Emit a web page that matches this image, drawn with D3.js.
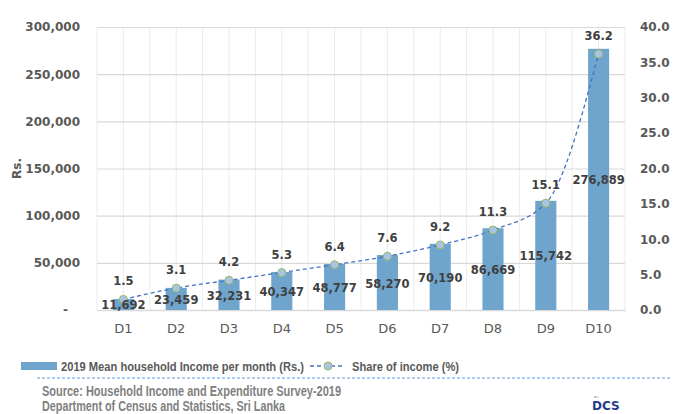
<!DOCTYPE html>
<html>
<head>
<meta charset="utf-8">
<script src="https://cdn.jsdelivr.net/npm/d3@7"></script>
<style>
  html, body { margin: 0; padding: 0; background: #fff; }
  svg text { font-family: "DejaVu Sans", sans-serif; }
  svg text.lg { font-family: "Liberation Sans", "Open Sans", sans-serif; }
</style>
</head>
<body>
<div id="chart"></div>
<script>
// ─── Data ──────────────────────────────────────────────────────────────
var deciles   = [ 'D1', 'D2', 'D3', 'D4', 'D5', 'D6', 'D7', 'D8', 'D9', 'D10' ];
var income    = [ 11692, 23459, 32231, 40347, 48777, 58270, 70190, 86669, 115742, 276889 ];
var share     = [ 1.5, 3.1, 4.2, 5.3, 6.4, 7.6, 9.2, 11.3, 15.1, 36.2 ];
var leftTicks = [ 0, 50000, 100000, 150000, 200000, 250000, 300000 ];
var rightTicks = [ 0, 5, 10, 15, 20, 25, 30, 35, 40 ];

var COLORS = {
	bar:      '#6fa5cd',
	line:     '#4472c4',
	dotFill:  '#a9c4eb',
	dotLine:  '#9bbb59',
	grid:     '#d9d9d9',
	gridV:    '#ececec',
	axisText: '#595959',
	label:    '#404040',
	source:   '#7f7f7f'
};

var width = 674, height = 414;
var margin = { top: 27, right: 49, bottom: 104, left: 97 };
var iw = width - margin.left - margin.right;
var ih = height - margin.top - margin.bottom;

var svg = d3.select( '#chart' ).append( 'svg' )
	.attr( 'width', width )
	.attr( 'height', height );

var g = svg.append( 'g' )
	.attr( 'transform', 'translate(' + margin.left + ',' + margin.top + ')' );

var x = d3.scaleBand().domain( deciles ).range( [ 0, iw ] ).paddingInner( 0.6 ).paddingOuter( 0.3 );
var xc = function ( d ) { return x( d ) + x.bandwidth() / 2; };
var step = x.step();
var y = d3.scaleLinear().domain( [ 0, 300000 ] ).range( [ ih, 0 ] );
var y2 = d3.scaleLinear().domain( [ 0, 40 ] ).range( [ ih, 0 ] );

// Vertical grid (category edges and centres).
var vlines = [];
deciles.forEach( function ( d ) { vlines.push( xc( d ) - step / 2, xc( d ) ); } );
vlines.push( iw );
g.append( 'g' ).selectAll( 'line' ).data( vlines ).join( 'line' )
	.attr( 'x1', function ( d ) { return d; } )
	.attr( 'x2', function ( d ) { return d; } )
	.attr( 'y1', 0 ).attr( 'y2', ih )
	.attr( 'stroke', COLORS.gridV ).attr( 'stroke-width', 1 );

// Left axis + horizontal grid.
g.append( 'g' )
	.call( d3.axisLeft( y ).tickValues( leftTicks ).tickSize( -iw ).tickPadding( 17 )
		.tickFormat( function ( v ) { return v === 0 ? '-' : d3.format( ',' )( v ); } ) )
	.call( function ( s ) {
		s.select( '.domain' ).remove();
		s.selectAll( 'line' ).attr( 'stroke', COLORS.grid ).attr( 'stroke-width', 1.2 );
		s.selectAll( 'text' )
			.attr( 'fill', COLORS.axisText )
			.style( 'font-size', '12px' )
			.style( 'font-weight', 'bold' );
		s.selectAll( '.tick' ).filter( function ( d ) { return d === 0; } ).select( 'text' )
			.attr( 'dx', '-12px' );
	} );

// Right axis.
g.append( 'g' )
	.attr( 'transform', 'translate(' + iw + ',0)' )
	.call( d3.axisRight( y2 ).tickValues( rightTicks ).tickSize( 0 ).tickPadding( 15 )
		.tickFormat( d3.format( '.1f' ) ) )
	.call( function ( s ) {
		s.select( '.domain' ).remove();
		s.selectAll( 'text' )
			.attr( 'fill', COLORS.axisText )
			.style( 'font-size', '12px' )
			.style( 'font-weight', 'bold' );
	} );

// Bottom axis.
g.append( 'g' )
	.attr( 'transform', 'translate(0,' + ih + ')' )
	.call( d3.axisBottom( x ).tickSize( 0 ).tickPadding( 14 ) )
	.call( function ( s ) {
		s.select( '.domain' ).attr( 'stroke', COLORS.grid ).attr( 'stroke-width', 1.5 );
		s.selectAll( 'text' )
			.attr( 'fill', COLORS.axisText )
			.style( 'font-size', '13px' );
	} );

// Y axis title.
svg.append( 'text' )
	.attr( 'transform', 'translate(21,' + ( margin.top + y( 150000 ) ) + ') rotate(-90)' )
	.attr( 'text-anchor', 'middle' )
	.attr( 'fill', COLORS.axisText )
	.style( 'font-size', '12px' )
	.style( 'font-weight', 'bold' )
	.text( 'Rs.' );

// Bars.
var rows = deciles.map( function ( d, i ) { return { d: d, inc: income[ i ], sh: share[ i ] }; } );

g.selectAll( 'rect.bar' ).data( rows ).join( 'rect' )
	.attr( 'class', 'bar' )
	.attr( 'x', function ( r ) { return x( r.d ); } )
	.attr( 'y', function ( r ) { return y( r.inc ); } )
	.attr( 'width', x.bandwidth() )
	.attr( 'height', function ( r ) { return ih - y( r.inc ); } )
	.attr( 'fill', COLORS.bar );

// Line.
var line = d3.line()
	.x( function ( r ) { return xc( r.d ); } )
	.y( function ( r ) { return y2( r.sh ); } )
	.curve( d3.curveMonotoneX );

g.append( 'path' ).datum( rows )
	.attr( 'fill', 'none' )
	.attr( 'stroke', COLORS.line )
	.attr( 'stroke-width', 1.3 )
	.attr( 'stroke-dasharray', '4,3' )
	.attr( 'd', line );

g.selectAll( 'circle.dot' ).data( rows ).join( 'circle' )
	.attr( 'class', 'dot' )
	.attr( 'cx', function ( r ) { return xc( r.d ); } )
	.attr( 'cy', function ( r ) { return y2( r.sh ); } )
	.attr( 'r', 4 )
	.attr( 'fill', COLORS.dotFill )
	.attr( 'stroke', COLORS.dotLine )
	.attr( 'stroke-width', 1 );

// Bar value labels (centred in bar).
g.selectAll( 'text.val' ).data( rows ).join( 'text' )
	.attr( 'class', 'val' )
	.attr( 'x', function ( r ) { return xc( r.d ); } )
	.attr( 'y', function ( r ) { return ( y( r.inc ) + ih ) / 2 + 5; } )
	.attr( 'text-anchor', 'middle' )
	.attr( 'fill', COLORS.label )
	.style( 'font-size', '11.5px' )
	.style( 'font-weight', 'bold' )
	.text( function ( r ) { return d3.format( ',' )( r.inc ); } );

// Share labels (above points).
g.selectAll( 'text.sh' ).data( rows ).join( 'text' )
	.attr( 'class', 'sh' )
	.attr( 'x', function ( r ) { return xc( r.d ); } )
	.attr( 'y', function ( r ) { return y2( r.sh ) - 14; } )
	.attr( 'text-anchor', 'middle' )
	.attr( 'fill', COLORS.label )
	.style( 'font-size', '11.5px' )
	.style( 'font-weight', 'bold' )
	.text( function ( r ) { return d3.format( '.1f' )( r.sh ); } );

// Legend (condensed face imitated by squeezing to the reference width).
var lgY = 366;
svg.append( 'rect' )
	.attr( 'x', 21 ).attr( 'y', lgY - 4 ).attr( 'width', 36 ).attr( 'height', 8 )
	.attr( 'fill', COLORS.bar );
svg.append( 'text' )
	.attr( 'class', 'lg' )
	.attr( 'x', 61 ).attr( 'y', lgY + 5 )
	.attr( 'textLength', 243 ).attr( 'lengthAdjust', 'spacingAndGlyphs' )
	.attr( 'fill', COLORS.axisText )
	.style( 'font-size', '13px' )
	.style( 'font-weight', 'bold' )
	.text( '2019 Mean household Income per month (Rs.)' );
svg.append( 'line' )
	.attr( 'x1', 310 ).attr( 'x2', 345 ).attr( 'y1', lgY ).attr( 'y2', lgY )
	.attr( 'stroke', COLORS.line ).attr( 'stroke-width', 1.3 ).attr( 'stroke-dasharray', '4,3' );
svg.append( 'circle' )
	.attr( 'cx', 328 ).attr( 'cy', lgY ).attr( 'r', 4 )
	.attr( 'fill', COLORS.dotFill ).attr( 'stroke', COLORS.dotLine );
svg.append( 'text' )
	.attr( 'class', 'lg' )
	.attr( 'x', 352 ).attr( 'y', lgY + 5 )
	.attr( 'textLength', 107 ).attr( 'lengthAdjust', 'spacingAndGlyphs' )
	.attr( 'fill', COLORS.axisText )
	.style( 'font-size', '13px' )
	.style( 'font-weight', 'bold' )
	.text( 'Share of income (%)' );

// Separator.
svg.append( 'line' )
	.attr( 'x1', 37 ).attr( 'x2', 670 ).attr( 'y1', 378 ).attr( 'y2', 378 )
	.attr( 'stroke', '#5b9bd5' ).attr( 'stroke-width', 1 ).attr( 'stroke-dasharray', '3,2' );

// Source.
svg.append( 'text' )
	.attr( 'class', 'lg' )
	.attr( 'x', 42 ).attr( 'y', 396 )
	.attr( 'textLength', 299 ).attr( 'lengthAdjust', 'spacingAndGlyphs' )
	.attr( 'fill', COLORS.source )
	.style( 'font-size', '14px' )
	.style( 'font-weight', 'bold' )
	.text( 'Source: Household Income and Expenditure Survey-2019' );
svg.append( 'text' )
	.attr( 'class', 'lg' )
	.attr( 'x', 42 ).attr( 'y', 411 )
	.attr( 'textLength', 243 ).attr( 'lengthAdjust', 'spacingAndGlyphs' )
	.attr( 'fill', COLORS.source )
	.style( 'font-size', '14px' )
	.style( 'font-weight', 'bold' )
	.text( 'Department of Census and Statistics, Sri Lanka' );

// DCS mark.
svg.append( 'text' )
	.attr( 'x', 592 ).attr( 'y', 410 )
	.attr( 'fill', '#1f3c88' )
	.style( 'font-size', '12px' )
	.style( 'font-weight', 'bold' )
	.text( 'DCS' );
svg.append( 'text' )
	.attr( 'x', 594 ).attr( 'y', 399 )
	.attr( 'fill', '#1f3c88' )
	.style( 'font-size', '4px' )
	.text( 'ᴰᶜˢ' );
</script>
</body>
</html>
